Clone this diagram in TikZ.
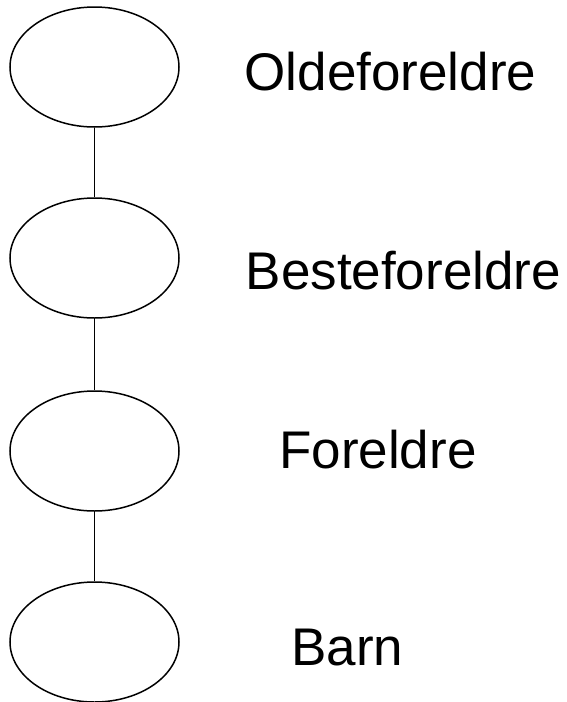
\documentclass[tikz,border=0pt]{standalone}
\usepackage{fontspec}
\setmainfont{Liberation Sans}
\usetikzlibrary{shapes.geometric}
\begin{document}
\begin{tikzpicture}[x=1pt,y=-1pt,
  gen/.style={draw,ellipse,line width=1.5pt,minimum width=169pt,minimum height=120pt,inner sep=0pt},
  lbl/.style={anchor=base west,inner sep=0pt,font=\fontsize{53}{60}\selectfont},
  link/.style={line width=1.5pt}]
\useasboundingbox (0,0) rectangle (566,702);
\node[gen] (e1) at (94.5,67) {};
\node[gen] (e2) at (94.5,258) {};
\node[gen] (e3) at (94.5,451) {};
\node[gen] (e4) at (94.5,642) {};
\draw[link] (e1.south) -- (e2.north);
\draw[link] (e2.south) -- (e3.north);
\draw[link] (e3.south) -- (e4.north);
\node[lbl] (t1) at (244.5,90) {Oldeforeldre};
\node[lbl] (t2) at (245.5,289) {Besteforeldre};
\node[lbl] (t3) at (279,468) {Foreldre};
\node[lbl] (t4) at (291,665) {Barn};
\end{tikzpicture}
\end{document}
